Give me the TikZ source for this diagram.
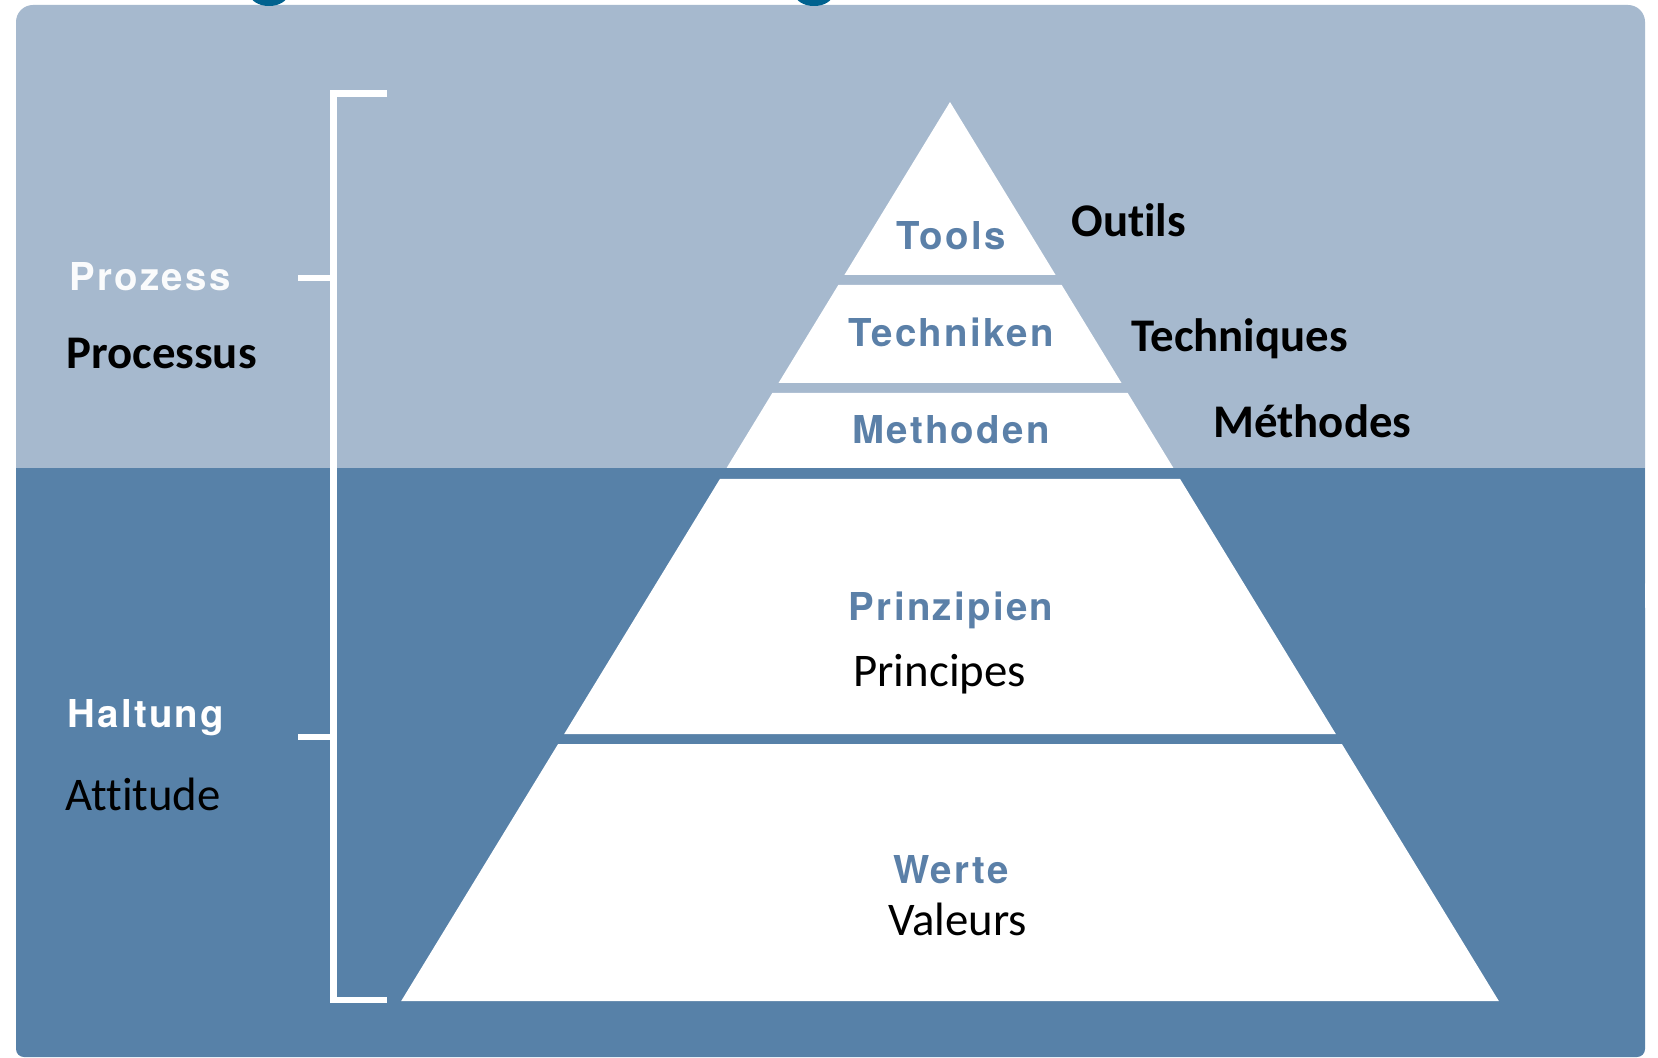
\documentclass[tikz,border=0pt]{standalone}
\usepackage{fontspec}
\newfontfamily\defont[LetterSpace=6]{TeX Gyre Heros}
\newfontfamily\frfont[Ligatures=NoCommon]{Carlito}
\definecolor{lightbg}{HTML}{A6B9CE}
\definecolor{darkbg}{HTML}{5781A8}
\definecolor{delabel}{HTML}{5B80A8}
\definecolor{titleblue}{HTML}{00628F}
\tikzset{
  delbl/.style={inner sep=0pt, anchor=base, text=delabel, font=\defont\bfseries\fontsize{19.2}{21}\selectfont},
  sidelbl/.style={inner sep=0pt, anchor=base west, text=white, font=\defont\bfseries\fontsize{19.2}{21}\selectfont},
  frbold/.style={inner sep=0pt, anchor=base west, text=black, font=\frfont\bfseries\fontsize{23.4}{26}\selectfont},
  frreg/.style={inner sep=0pt, anchor=base west, text=black, font=\frfont\fontsize{23.4}{26}\selectfont},
  band/.style={fill=white},
  bracket/.style={draw=white, line width=3.2pt}
}
\begin{document}
\begin{tikzpicture}[x=0.5pt,y=-0.5pt]
\useasboundingbox (0,0) rectangle (1658,1058);
\fill[white] (0,0) rectangle (1658,1058);
% background box
\fill[lightbg, rounded corners=8.5pt] (16,5) rectangle (1645,600);
\fill[darkbg] (16,468) rectangle (1645,700);
\fill[darkbg, rounded corners=4pt] (16,600) rectangle (1645,1057);
% cut-off title fragments
\begin{scope}
\clip (0,0) rectangle (1658,20);
\fill[titleblue] (269,-6) ellipse [x radius=19, y radius=12];
\fill[titleblue] (814,-6) ellipse [x radius=19, y radius=12];
\end{scope}
% bracket
\coordinate (bt) at (333.5,93.5);
\coordinate (bb) at (333.5,1000);
\draw[bracket] (387,93.5) -- (bt) -- (bb) -- (387,1000);
\coordinate (tp) at (333.5,278);
\coordinate (th) at (333.5,737);
\draw[bracket] (298,278) -- (tp);
\draw[bracket] (298,737) -- (th);
% pyramid bands
\fill[band] (950,102) -- (1055.6,275) -- (844.4,275) -- cycle;
\fill[band] (838.3,285) -- (1061.7,285) -- (1121.5,383) -- (778.5,383) -- cycle;
\fill[band] (772.3,393) -- (1127.7,393) -- (1173.4,468) -- (726.6,468) -- cycle;
\fill[band] (719.9,479) -- (1180.1,479) -- (1335.8,734) -- (564.2,734) -- cycle;
\fill[band] (558.1,744) -- (1341.9,744) -- (1498.8,1001) -- (401.2,1001) -- cycle;
% pyramid labels
\node[delbl] (tools) at (951,250) {Tools};
\node[delbl] (techniken) at (951,347) {Techniken};
\node[delbl] (methoden) at (951,444) {Methoden};
\node[delbl] (prinzipien) at (951,620) {Prinzipien};
\node[delbl] (werte) at (951,883) {Werte};
\node[frreg] (principes) at (853,686) {Principes};
\node[frreg] (valeurs) at (888,935) {Valeurs};
% right labels
\node[frbold] (outils) at (1071,237) {Outils};
\node[frbold] (techniques) at (1131,352) {Techniques};
\node[frbold] (methodes) at (1213,438) {Méthodes};
% left labels
\node[sidelbl, text=white!94!lightbg] (prozess) at (69,291) {Prozess};
\node[frbold] (processus) at (66,369) {Processus};
\node[sidelbl] (haltung) at (67,727) {Haltung};
\node[frreg] (attitude) at (65,810) {Attitude};
\end{tikzpicture}
\end{document}
